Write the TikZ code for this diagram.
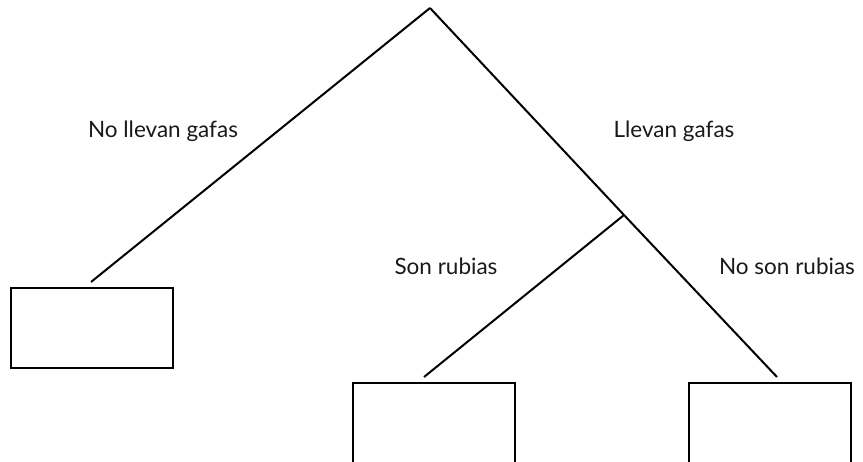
\documentclass[tikz,border=0pt]{standalone}
\usepackage{fontspec}
\setmainfont{Lato}
\usepackage{tikz}
\begin{document}
\begin{tikzpicture}[x=1pt,y=-1pt,line width=2pt,
    caja/.style={draw,minimum width=162pt,minimum height=80pt,anchor=north west,inner sep=0pt},
    etiqueta/.style={anchor=base,font=\fontsize{22.5}{26}\selectfont,text=black!90}]
    \useasboundingbox (0,0) rectangle (863,461);
    \clip (0,0) rectangle (863,461);
    % cajas
    \node[caja] (izq) at (10,287) {};
    \node[caja, minimum height=100pt] (rubias) at (352,382) {};
    \node[caja, minimum height=100pt] (norubias) at (688,382) {};
    % puntos de las ramas
    \coordinate (raiz) at (430,8);
    \coordinate (rama) at (624,215);
    \coordinate (finizq) at (91,282);
    \coordinate (finrub) at (424,377);
    \coordinate (finnorub) at (777,377);
    \draw (raiz) -- (finizq);
    \draw (raiz) -- (rama) -- (finnorub);
    \draw (rama) -- (finrub);
    % textos
    \node[etiqueta] (t1) at (163,137) {No llevan gafas};
    \node[etiqueta] (t2) at (674,137) {Llevan gafas};
    \node[etiqueta] (t3) at (446,274) {Son rubias};
    \node[etiqueta] (t4) at (787,274) {No son rubias};
\end{tikzpicture}
\end{document}
